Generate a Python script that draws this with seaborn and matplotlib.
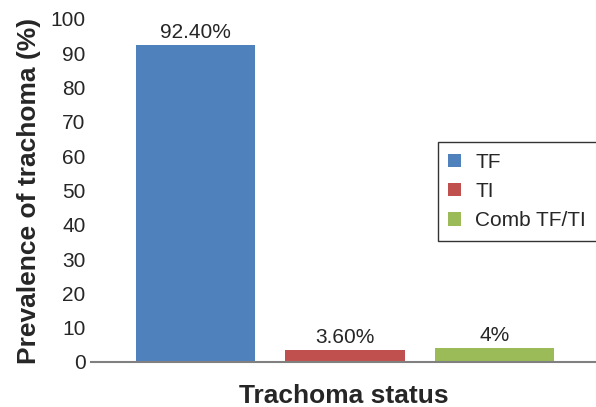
import matplotlib
matplotlib.use("Agg")
import matplotlib.pyplot as plt
import seaborn as sns
import pandas as pd

categories = ["TF", "TI", "Comb TF/TI"]
prevalence = [92.4, 3.6, 4.0]
bar_labels = ["92.40%", "3.60%", "4%"]
colors = ["#4F81BD", "#C0504D", "#9BBB59"]
yticks = list(range(0, 101, 10))

sns.set_style("white")
plt.rcParams["font.family"] = ["Liberation Sans", "DejaVu Sans"]

df = pd.DataFrame({"status": categories, "value": prevalence})

fig = plt.figure(figsize=(5.96, 4.07), dpi=100)
ax = fig.add_axes([0.1527, 0.1106, 0.8473, 0.8428])
sns.barplot(data=df, x="status", y="value", hue="status", palette=colors,
            width=0.8, saturation=1, legend=True, linewidth=0, ax=ax)

for cont, lab in zip(ax.containers, bar_labels):
    ax.bar_label(cont, labels=[lab], fontsize=15, padding=2)

ax.set_ylim(0, 100)
ax.set_xlim(-0.7, 2.68)
ax.set_yticks(yticks)
ax.tick_params(axis="y", labelsize=15, length=0, pad=4)
ax.set_xticks([-0.7])
ax.set_xticklabels([""])
ax.tick_params(axis="x", length=4, width=1, color="#808080", direction="out")

for s in ["top", "right", "left"]:
    ax.spines[s].set_visible(False)
ax.spines["bottom"].set_color("#808080")
ax.spines["bottom"].set_linewidth(1.5)

ax.set_xlabel("Trachoma status", fontsize=19, fontweight="bold", labelpad=8)
ax.set_ylabel("Prevalence of trachoma (%)", fontsize=19, fontweight="bold", labelpad=7)

# legend box sits right of centre and runs off the right edge, as in the source
leg = ax.legend(loc="upper left", bbox_to_anchor=(0.687, 0.641), fontsize=15,
                frameon=True, fancybox=False, handlelength=0.6, handleheight=0.6,
                handletextpad=0.7, borderpad=0.5, labelspacing=0.5,
                borderaxespad=0)
leg.get_frame().set_edgecolor("black")
leg.get_frame().set_linewidth(1)

fig.savefig("out.png", dpi=100)
